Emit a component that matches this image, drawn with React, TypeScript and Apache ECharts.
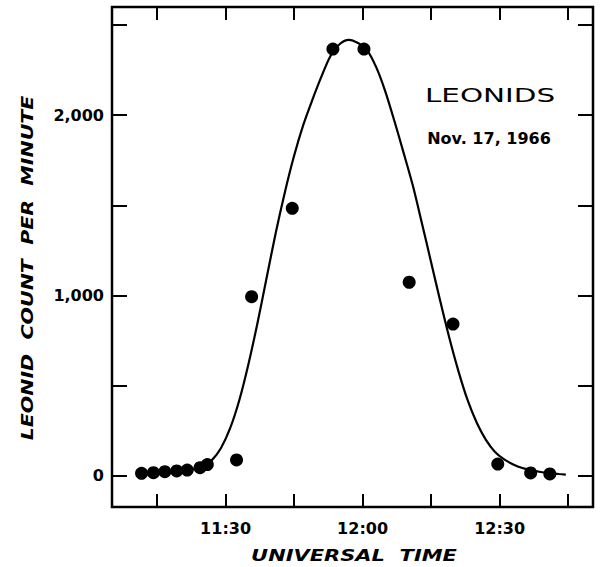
import React, { useEffect, useRef } from "react";
import * as echarts from "echarts";

// x values are minutes after 11:00 UT
const xTickMinutes = [15, 30, 45, 60, 75, 90, 105];
const xLabelMinutes = [30, 60, 90];
const yTickValues = [0, 500, 1000, 1500, 2000, 2500];
const yLabelValues = [0, 1000, 2000];

const observedMinutes = [11.6, 14.2, 16.7, 19.3, 21.6, 24.4, 26.0, 32.4, 35.7, 44.6, 53.5, 60.3, 70.2, 79.8, 89.6, 96.8, 101.0];
const observedCounts = [15, 18, 24, 28, 33, 46, 63, 89, 994, 1484, 2367, 2367, 1074, 842, 66, 17, 11];

const curveMinutes = [11, 15, 19, 21, 23, 25, 27, 29, 31, 33, 35, 37, 39, 41, 43, 45, 47, 49, 51, 53, 55, 57, 59, 61, 63, 65, 67, 69, 71, 73, 75, 77, 79, 81, 83, 85, 87, 89, 91, 93, 95, 97, 99, 101, 103, 104.5];
const curveCounts = [8, 12, 20, 27, 38, 55, 88, 155, 265, 420, 620, 850, 1100, 1350, 1575, 1775, 1945, 2085, 2215, 2330, 2395, 2418, 2400, 2360, 2265, 2130, 1965, 1790, 1610, 1400, 1185, 970, 765, 580, 420, 295, 200, 133, 92, 64, 44, 31, 22, 16, 11, 8];

const X_MIN = 5.13;
const X_MAX = 110.45;
const Y_MIN = -172;
const Y_MAX = 2600;

const timeLabel = (v: number) => {
  const h = 11 + Math.floor(v / 60);
  const m = Math.round(v % 60);
  return `${h}:${String(m).padStart(2, "0")}`;
};
const countLabel = (v: number) => (v === 0 ? "0" : v.toLocaleString("en-US"));

const FONT = "DejaVu Sans";

export default function App() {
  const ref = useRef<HTMLDivElement>(null);
  useEffect(() => {
    if (!ref.current) return;
    const chart = echarts.init(ref.current, null, { renderer: "svg" });
    const tickStyle = { color: "#000", width: 2 };
    const xAxisBase = {
      type: "value",
      min: X_MIN,
      max: X_MAX,
      splitLine: { show: false },
      axisLine: { show: false, onZero: false },
      axisTick: { show: true, inside: true, length: 13, customValues: xTickMinutes, lineStyle: tickStyle },
    };
    const yAxisBase = {
      type: "value",
      min: Y_MIN,
      max: Y_MAX,
      splitLine: { show: false },
      axisLine: { show: false, onZero: false },
      axisTick: { show: true, inside: true, length: 15, customValues: yTickValues, lineStyle: tickStyle },
    };
    chart.setOption({
      animation: false,
      backgroundColor: "#fff",
      grid: { left: 112, right: 10, top: 7, bottom: 60, show: true, borderColor: "#000", borderWidth: 2.5, backgroundColor: "transparent" },
      xAxis: [
        {
          ...xAxisBase,
          position: "bottom",
          axisLabel: {
            show: true,
            customValues: xLabelMinutes,
            formatter: timeLabel,
            margin: 13,
            color: "#000",
            fontFamily: FONT,
            fontWeight: "bold",
            fontSize: 16,
          },
        },
        { ...xAxisBase, position: "top", axisLabel: { show: false } },
      ],
      yAxis: [
        {
          ...yAxisBase,
          position: "left",
          axisLabel: {
            show: true,
            customValues: yLabelValues,
            formatter: countLabel,
            margin: 8,
            color: "#000",
            fontFamily: FONT,
            fontWeight: "bold",
            fontSize: 16,
          },
        },
        { ...yAxisBase, position: "right", axisLabel: { show: false } },
      ],
      series: [
        {
          type: "line",
          xAxisIndex: 0,
          yAxisIndex: 0,
          data: curveMinutes.map((m, i) => [m, curveCounts[i]]),
          smooth: 0.3,
          showSymbol: false,
          symbol: "none",
          lineStyle: { color: "#000", width: 2.2 },
          z: 2,
        },
        {
          type: "scatter",
          xAxisIndex: 0,
          yAxisIndex: 0,
          data: observedMinutes.map((m, i) => [m, observedCounts[i]]),
          symbol: "circle",
          symbolSize: 13,
          itemStyle: { color: "#000", opacity: 1 },
          z: 3,
        },
      ],
      graphic: [
        {
          type: "text",
          x: 490,
          y: 95,
          scaleX: 1.55,
          style: {
            text: "LEONIDS",
            fill: "#000",
            font: `normal 19px "${FONT}"`,
            align: "center",
            verticalAlign: "middle",
          },
        },
        {
          type: "text",
          x: 489,
          y: 138,
          style: {
            text: "Nov. 17, 1966",
            fill: "#000",
            font: `bold 16px "${FONT}"`,
            align: "center",
            verticalAlign: "middle",
          },
        },
        {
          type: "text",
          x: 354,
          y: 556,
          scaleX: 1.4,
          style: {
            text: "UNIVERSAL  TIME",
            fill: "#000",
            font: `italic bold 15px "${FONT}"`,
            align: "center",
            verticalAlign: "middle",
          },
        },
        {
          type: "text",
          x: 28,
          y: 268,
          rotation: Math.PI / 2,
          scaleX: 1.37,
          style: {
            text: "LEONID  COUNT  PER  MINUTE",
            fill: "#000",
            font: `italic bold 15px "${FONT}"`,
            align: "center",
            verticalAlign: "middle",
          },
        },
      ],
    });
    return () => chart.dispose();
  }, []);
  return <div ref={ref} style={{ position: "fixed", left: 0, top: 0, width: 603, height: 567 }} />;
}
